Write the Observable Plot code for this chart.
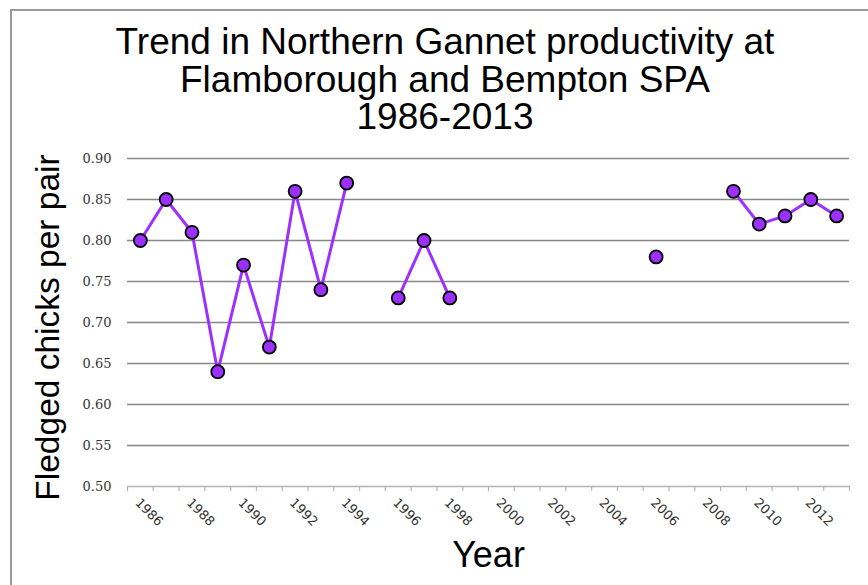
<!DOCTYPE html>
<html>
<head>
<meta charset="utf-8">
<script src="https://cdn.jsdelivr.net/npm/d3@7"></script>
<script src="https://cdn.jsdelivr.net/npm/@observablehq/plot@0.6"></script>
<style>
  html, body { margin: 0; padding: 0; width: 868px; height: 585px; overflow: hidden; background: #fff; }
  #frame { position: absolute; left: 10px; top: 9px; width: 900px; height: 620px; border: 2px solid #9a9a9a; box-sizing: border-box; }
  #title { position: relative; height: 145px; box-sizing: border-box; padding-top: 23px; margin-left: 11px; width: 868px;
           text-align: center; font-family: "Liberation Sans", Arial, sans-serif; font-size: 37px; line-height: 37.5px; color: #000; }
  #chart { position: relative; }
</style>
</head>
<body>
<div id="frame"></div>
<div id="title">Trend in Northern Gannet productivity at<br>Flamborough and Bempton SPA<br>1986-2013</div>
<div id="chart"></div>
<script>
const years = [1986, 1987, 1988, 1989, 1990, 1991, 1992, 1993, 1994, 1995, 1996, 1997, 1998, 1999,
               2000, 2001, 2002, 2003, 2004, 2005, 2006, 2007, 2008, 2009, 2010, 2011, 2012, 2013];
const productivity = [0.80, 0.85, 0.81, 0.64, 0.77, 0.67, 0.86, 0.74, 0.87, null, 0.73, 0.80, 0.73, null,
                      null, null, null, null, null, null, 0.78, null, null, 0.86, 0.82, 0.83, 0.85, 0.83];
const yTicks = [0.50, 0.55, 0.60, 0.65, 0.70, 0.75, 0.80, 0.85, 0.90];
const xTickLabels = [1986, 1988, 1990, 1992, 1994, 1996, 1998, 2000, 2002, 2004, 2006, 2008, 2010, 2012];
const yTitle = "Fledged chicks per pair";
const xTitle = "Year";

const data = years.map((year, i) => ({year, value: productivity[i]}));
const boundaries = years.map(y => y - 0.5).concat([years[years.length - 1] + 0.5]);
const purple = "#9b30ff";

const chart = Plot.plot({
  width: 868,
  height: 440,
  marginLeft: 127,
  marginRight: 19,
  marginTop: 13,
  marginBottom: 99,
  style: {fontFamily: "'DejaVu Sans', sans-serif", background: "transparent", overflow: "visible"},
  x: {type: "linear", domain: [years[0] - 0.5, years[years.length - 1] + 0.5], axis: null, label: null},
  y: {domain: [yTicks[0], yTicks[yTicks.length - 1]], axis: null, label: null},
  marks: [
    Plot.ruleY(yTicks.slice(1), {stroke: "#878787", strokeWidth: 1.4}),
    Plot.ruleY([yTicks[0]], {stroke: "#b3b3b3", strokeWidth: 1.4}),
    Plot.axisX({ticks: boundaries, tickFormat: () => "", tickSize: 5, stroke: "#b3b3b3", strokeWidth: 1.2, label: null}),
    Plot.axisY({ticks: yTicks, tickFormat: d3.format(".2f"), tickSize: 0, tickPadding: 16, label: null,
                fontFamily: "'DejaVu Serif', serif", fontSize: 13, fill: "#333"}),
    Plot.text(xTickLabels, {x: d => d, text: d => String(d), frameAnchor: "bottom", dx: -6, dy: 17, rotate: 45,
                            textAnchor: "start", lineAnchor: "bottom", fontSize: 13, fill: "#333",
                            fontFamily: "'DejaVu Sans', sans-serif"}),
    Plot.line(data, {x: "year", y: "value", stroke: purple, strokeWidth: 3}),
    Plot.dot(data.filter(d => d.value != null), {x: "year", y: "value", r: 6.5, fill: purple, stroke: "#000", strokeWidth: 1.8}),
    Plot.text([yTitle], {frameAnchor: "left", dx: -69, dy: 5, rotate: -90, textAnchor: "middle", lineAnchor: "bottom",
                         fontSize: 33.5, fill: "#000", fontFamily: "'Liberation Sans', Arial, sans-serif"}),
    Plot.text([xTitle], {frameAnchor: "bottom", dy: 80, textAnchor: "middle", lineAnchor: "bottom",
                         fontSize: 36, fill: "#000", fontFamily: "'Liberation Sans', Arial, sans-serif"})
  ]
});
document.getElementById("chart").appendChild(chart);
</script>
</body>
</html>
